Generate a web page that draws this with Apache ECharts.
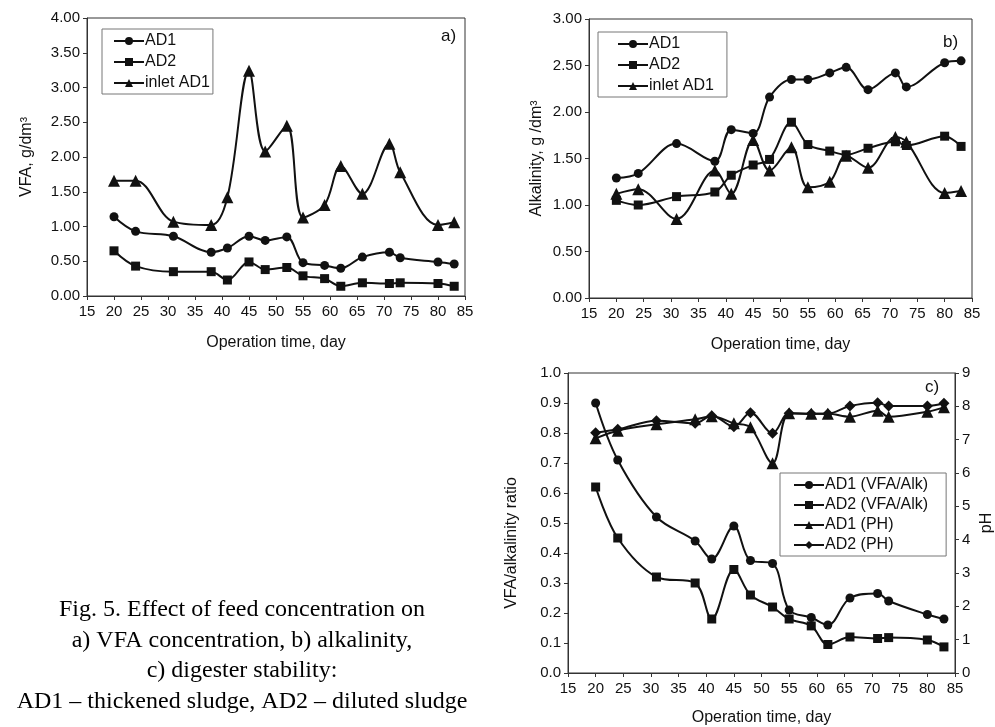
<!DOCTYPE html>
<html>
<head>
<meta charset="utf-8">
<script src="https://cdn.jsdelivr.net/npm/echarts@6/dist/echarts.min.js"></script>
<style>
html,body{margin:0;padding:0;background:#fff;}
#chart{width:995px;height:727px;}
</style>
</head>
<body>
<div id="chart"></div>
<script>
// Operation days (shared by all panels)
const days = [20,24,31,38,41,45,48,52,55,59,62,66,71,73,80,83];

// Panel a) VFA, g/dm3
const aAD1   = [1.14,0.93,0.86,0.63,0.69,0.86,0.80,0.85,0.48,0.44,0.40,0.56,0.63,0.55,0.49,0.46];
const aAD2   = [0.65,0.43,0.35,0.35,0.23,0.49,0.38,0.41,0.29,0.25,0.14,0.19,0.18,0.19,0.18,0.14];
const aInlet = [1.66,1.66,1.07,1.02,1.42,3.24,2.08,2.45,1.13,1.31,1.87,1.47,2.19,1.78,1.02,1.06];

// Panel b) Alkalinity, g/dm3
const bAD1   = [1.29,1.34,1.66,1.47,1.81,1.77,2.16,2.35,2.35,2.42,2.48,2.24,2.42,2.27,2.53,2.55];
const bAD2   = [1.05,1.00,1.09,1.14,1.32,1.43,1.49,1.89,1.65,1.58,1.54,1.61,1.68,1.64,1.74,1.63];
const bInlet = [1.12,1.17,0.85,1.37,1.12,1.70,1.37,1.62,1.19,1.25,1.53,1.40,1.73,1.68,1.13,1.15];

// Panel c) VFA/alkalinity ratio and pH
const cAD1ratio = [0.90,0.71,0.52,0.44,0.38,0.49,0.375,0.365,0.21,0.185,0.16,0.25,0.265,0.24,0.195,0.18];
const cAD2ratio = [0.62,0.45,0.32,0.30,0.18,0.345,0.26,0.22,0.18,0.157,0.095,0.12,0.115,0.118,0.11,0.087];
const cAD1pH    = [7.04,7.27,7.46,7.61,7.70,7.49,7.37,6.29,7.79,7.78,7.78,7.69,7.87,7.69,7.84,7.97];
const cAD2pH    = [7.21,7.31,7.57,7.49,7.72,7.39,7.81,7.19,7.79,7.78,7.78,8.01,8.11,8.01,8.01,8.09];

// Texts
const xName = 'Operation time, day';
const legendAB = ['AD1','AD2','inlet AD1'];
const legendC = ['AD1 (VFA/Alk)','AD2 (VFA/Alk)','AD1 (PH)','AD2 (PH)'];
const captionLines = [
  'Fig. 5. Effect of feed concentration on',
  'a) VFA concentration, b) alkalinity,',
  'c) digester stability:',
  'AD1 \u2013 thickened sludge, AD2 \u2013 diluted sludge'
];

const FONT = '"Liberation Sans", Arial, sans-serif';
const INK = '#111';
const AX = '#333';
const TICK_FS = 15;
const NAME_FS = 16;

function pairs(ys){ return days.map((d,i)=>[d, ys[i]]); }

const symbols = {circle:['circle',9], rect:['rect',9], triangle:['triangle',12], diamond:['diamond',11]};
function mk(name, data, sym, xi, yi){
  return {
    type:'line', name, data:pairs(data), xAxisIndex:xi, yAxisIndex:yi,
    smooth:0.35, symbol:symbols[sym][0], symbolSize:symbols[sym][1],
    showAllSymbol:true,
    lineStyle:{color:INK, width:2},
    itemStyle:{color:INK, borderColor:INK, borderWidth:0},
    emphasis:{disabled:true}, animation:false, z:3
  };
}

function xAxisDef(gi, nameGap){
  return {
    type:'value', gridIndex:gi, min:15, max:85, interval:5,
    name:xName, nameLocation:'middle', nameGap, nameMoveOverlap:false,
    nameTextStyle:{fontFamily:FONT, fontSize:NAME_FS, color:INK},
    axisLine:{show:true, lineStyle:{color:AX, width:1}},
    axisTick:{show:true, inside:false, length:4, lineStyle:{color:AX}},
    axisLabel:{fontFamily:FONT, fontSize:TICK_FS, color:INK, margin:8},
    splitLine:{show:false}
  };
}
function yAxisDef(gi, opt){
  return Object.assign({
    type:'value', gridIndex:gi, nameLocation:'middle', nameRotate:90, nameMoveOverlap:false,
    nameTextStyle:{fontFamily:FONT, fontSize:NAME_FS, color:INK},
    axisLine:{show:true, lineStyle:{color:AX, width:1}},
    axisTick:{show:true, inside:false, length:4, lineStyle:{color:AX}},
    splitLine:{show:false}
  }, opt);
}

function legendDef(names, left, top, padding, gap){
  return {
    data:names, left, top, orient:'vertical',
    itemWidth:30, itemHeight:10, itemGap:gap,
    padding,
    borderColor:'#777', borderWidth:1, backgroundColor:'#fff',
    textStyle:{fontFamily:FONT, fontSize:16, color:INK, padding:[0,0,0,-4]},
    selectedMode:false
  };
}

const chart = echarts.init(document.getElementById('chart'), null, {renderer:'canvas'});

const option = {
  backgroundColor:'#fff',
  animation:false,
  grid:[
    {left:87, top:18, width:378, height:278, show:true, borderColor:AX, borderWidth:1, backgroundColor:'transparent', outerBoundsMode:'none'},
    {left:589, top:19, width:383, height:279, show:true, borderColor:AX, borderWidth:1, backgroundColor:'transparent', outerBoundsMode:'none'},
    {left:568, top:373, width:387, height:300, show:true, borderColor:AX, borderWidth:1, backgroundColor:'transparent', outerBoundsMode:'none'}
  ],
  xAxis:[ xAxisDef(0, 39), xAxisDef(1, 39), xAxisDef(2, 37) ],
  yAxis:[
    yAxisDef(0, {min:0, max:4, interval:0.5, name:'VFA, g/dm\u00B3', nameGap:52,
      axisLabel:{fontFamily:FONT, fontSize:TICK_FS, color:INK, margin:7, formatter:v=>v.toFixed(2)}}),
    yAxisDef(1, {min:0, max:3, interval:0.5, name:'Alkalinity, g /dm\u00B3', nameGap:44,
      axisLabel:{fontFamily:FONT, fontSize:TICK_FS, color:INK, margin:7, formatter:v=>v.toFixed(2)}}),
    yAxisDef(2, {min:0, max:1, interval:0.1, name:'VFA/alkalinity ratio', nameGap:48,
      nameTextStyle:{fontFamily:FONT, fontSize:NAME_FS, color:INK, padding:[0,40,0,0]},
      axisLabel:{fontFamily:FONT, fontSize:TICK_FS, color:INK, margin:7, formatter:v=>v.toFixed(1)}}),
    yAxisDef(2, {min:0, max:9, interval:1, position:'right', name:'pH', nameGap:24,
      axisLabel:{fontFamily:FONT, fontSize:TICK_FS, color:INK, margin:7}})
  ],
  legend:[
    legendDef(legendAB, 102, 29, [4,3,3,11], 5),
    legendDef(legendAB, 598, 32, [4,13,3,19], 5),
    legendDef(legendC, 780, 473, [4,18,3,13], 4)
  ],
  series:[
    mk('AD1', aAD1, 'circle', 0, 0),
    mk('AD2', aAD2, 'rect', 0, 0),
    mk('inlet AD1', aInlet, 'triangle', 0, 0),
    mk('AD1', bAD1, 'circle', 1, 1),
    mk('AD2', bAD2, 'rect', 1, 1),
    mk('inlet AD1', bInlet, 'triangle', 1, 1),
    mk('AD1 (VFA/Alk)', cAD1ratio, 'circle', 2, 2),
    mk('AD2 (VFA/Alk)', cAD2ratio, 'rect', 2, 2),
    mk('AD1 (PH)', cAD1pH, 'triangle', 2, 3),
    mk('AD2 (PH)', cAD2pH, 'diamond', 2, 3)
  ],
  graphic:[
    {type:'text', left:441, top:28, style:{text:'a)', font:'17px '+FONT, fill:INK}},
    {type:'text', left:943, top:34, style:{text:'b)', font:'17px '+FONT, fill:INK}},
    {type:'text', left:925, top:379, style:{text:'c)', font:'17px '+FONT, fill:INK}}
  ].concat(captionLines.map((t,i)=>({
    type:'text', x:242, y:610 + i*30.5,
    style:{text:t, font:'24px "Liberation Serif", "Times New Roman", serif', fill:'#000', align:'center', verticalAlign:'middle'}
  })))
};
chart.setOption(option);
</script>
</body>
</html>
